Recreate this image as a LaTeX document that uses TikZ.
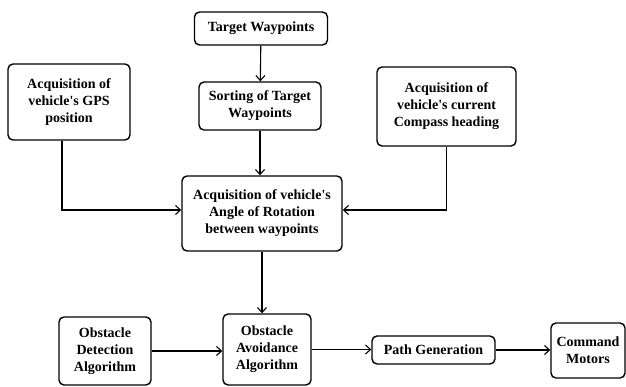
\documentclass[tikz,border=0pt]{standalone}
\usepackage{fontspec}
\setmainfont{Liberation Serif}
\usetikzlibrary{arrows.meta}

\begin{document}
\begin{tikzpicture}[x=1pt, y=1pt, >={Straight Barb[length=5pt,width=9pt]},
  block/.style={draw, line width=1.4pt, rounded corners=5pt, align=center, inner sep=0pt, font=\fontsize{14}{17}\selectfont\bfseries},
  flow/.style={->, line width=1.1pt}]

\useasboundingbox (0,0) rectangle (626,386);

\node[block, minimum width=133pt, minimum height=33pt] (target) at (261,357.5) {Target Waypoints};
\node[block, minimum width=122pt, minimum height=48pt] (sorting) at (260,280) {Sorting of Target\\Waypoints};
\node[block, minimum width=122pt, minimum height=76pt] (gps) at (69,284) {Acquisition of\\vehicle\textquotesingle s GPS\\position};
\node[block, minimum width=139pt, minimum height=79pt] (compass) at (446.5,279.5) {Acquisition of\\vehicle\textquotesingle s current\\Compass heading};
\node[block, minimum width=160pt, minimum height=75pt] (angle) at (262,172.5) {Acquisition of vehicle\textquotesingle s\\Angle of Rotation\\between waypoints};

\node[block, minimum width=92pt, minimum height=68pt] (detect) at (105,35) {Obstacle\\Detection\\Algorithm};
\node[block, minimum width=88pt, minimum height=71pt] (avoid) at (267,36.5) {Obstacle\\Avoidance\\Algorithm};
\node[block, minimum width=123pt, minimum height=28pt] (path) at (433.5,36) {Path Generation};
\node[block, minimum width=74pt, minimum height=55pt] (command) at (588,35.5) {Command\\Motors};

\draw[flow] (target) to (sorting);
\draw[flow] (sorting.south) to (sorting.south |- angle.north);
\draw[flow] ([xshift=-7pt]gps.south) |- ([yshift=3.5pt]angle.west);
\draw[flow] (compass.south) |- ([yshift=3.5pt]angle.east);
\draw[flow] (angle.south) to (angle.south |- avoid.north);

\draw[flow] (detect.east) to (detect.east -| avoid.west);
\draw[flow] (avoid.east) to (avoid.east -| path.west);
\draw[flow] (path.east) to (path.east -| command.west);
\end{tikzpicture}
\end{document}
